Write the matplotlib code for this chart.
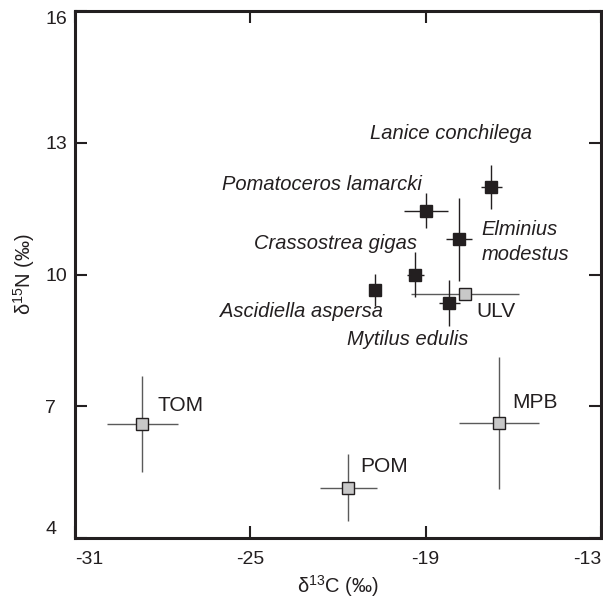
import matplotlib
matplotlib.use('Agg')
import matplotlib.pyplot as plt
import numpy as np

plt.rcParams['font.family'] = ['Liberation Sans', 'DejaVu Sans']

# consumers (black squares): mean and sd of d13C / d15N
species = ['Lanice conchilega', 'Pomatoceros lamarcki', 'Elminius\nmodestus',
           'Crassostrea gigas', 'Ascidiella aspersa', 'Mytilus edulis']
sp_c = [-16.75, -19.0, -17.85, -19.35, -20.75, -18.2]
sp_c_sd = [0.35, 0.75, 0.45, 0.3, 0.0, 0.36]
sp_n = [12.0, 11.45, 10.8, 10.0, 9.65, 9.35]
sp_n_sd = [0.5, 0.4, 0.95, 0.52, 0.36, 0.53]

# food sources (grey squares)
sources = ['TOM', 'POM', 'MPB', 'ULV']
src_c = [-28.7, -21.65, -16.5, -17.65]
src_c_sd = [1.21, 0.98, 1.37, 1.85]
src_n = [6.6, 5.15, 6.62, 9.55]
src_n_sd = [1.09, 0.77, 1.5, 0.0]

xticks = [-31, -25, -19, -13]
yticks = [4, 7, 10, 13, 16]

# label placement (x, y, ha) in data units
sp_lab = [(-18.15, 13.22, 'center'), (-19.12, 12.04, 'right'), (-17.08, 10.74, 'left'),
          (-19.29, 10.71, 'right'), (-20.45, 9.15, 'right'), (-19.6, 8.51, 'center')]
src_lab = [(-28.17, 7.01), (-21.25, 5.62), (-16.03, 7.09), (-17.25, 9.15)]

ink = '#231f20'
fig = plt.figure(figsize=(6.03, 6.0), dpi=100)
ax = fig.add_axes([0.1244, 0.1033, 0.8723, 0.8784])

ax.errorbar(src_c, src_n, xerr=src_c_sd, yerr=src_n_sd, fmt='s', color='#5a5a5a',
            ecolor='#5a5a5a', elinewidth=1.0, capsize=0, markersize=8,
            markerfacecolor='#c8c8c8', markeredgecolor=ink, markeredgewidth=1.0, zorder=3)
ax.errorbar(sp_c, sp_n, xerr=sp_c_sd, yerr=sp_n_sd, fmt='s', color=ink,
            ecolor=ink, elinewidth=1.0, capsize=0, markersize=9,
            markerfacecolor=ink, markeredgecolor=ink, zorder=4)

for name, (x, y, ha) in zip(species, sp_lab):
    ax.text(x, y, name, ha=ha, va='center', fontsize=14.5, style='italic',
            color=ink, linespacing=1.45)
for name, (x, y) in zip(sources, src_lab):
    ax.text(x, y, name, ha='left', va='center', fontsize=15, color=ink)

ax.set_xlim(-31, -13)
ax.set_ylim(4, 16)
ax.set_xticks(xticks)
ax.set_xticklabels(['-31', '-25', '-19', '-13'])
ax.set_yticks(yticks)
ax.set_yticklabels([str(v) for v in yticks])
ax.tick_params(direction='in', length=8.5, width=1.5, color=ink, labelsize=14,
               labelcolor=ink, top=True, right=True)
ax.tick_params(axis='x', pad=9)
ax.tick_params(axis='y', pad=21.6)
xl = ax.get_xticklabels()
xl[0].set_ha('left')
xl[-1].set_ha('right')
yl = ax.get_yticklabels()
for t in yl:
    t.set_ha('left')
yl[0].set_va('bottom')
yl[-1].set_va('top')
for s in ax.spines.values():
    s.set_linewidth(2.2)
    s.set_color(ink)

ax.set_xlabel(r'$\mathregular{\delta^{13}}$C (‰)', fontsize=14.5, color=ink, labelpad=4)
ax.set_ylabel(r'$\mathregular{\delta^{15}}$N (‰)', fontsize=14.5, color=ink, labelpad=6)

fig.savefig('out.png', dpi=100)
